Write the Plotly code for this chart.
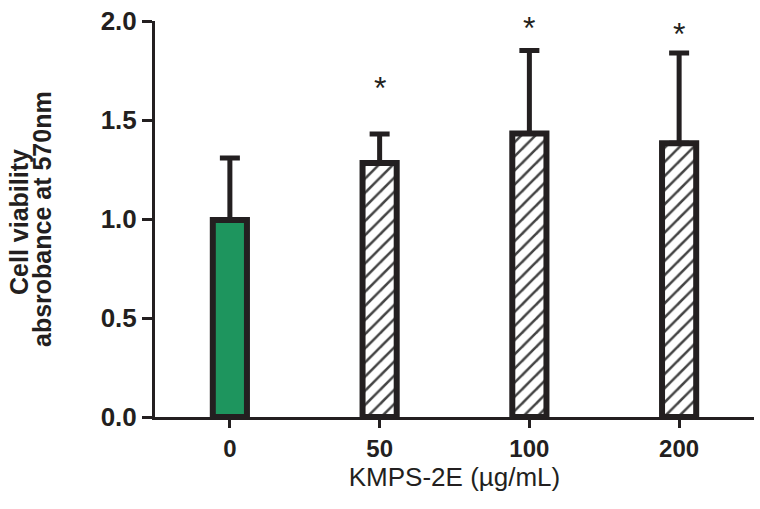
import plotly.graph_objects as go

categories = ["0", "50", "100", "200"]
means = [0.995, 1.283, 1.432, 1.383]
err_upper = [0.313, 0.146, 0.419, 0.455]
fill_colors = ["#1e955e", "white", "white", "white"]
patterns = ["", "/", "/", "/"]
sig_labels = ["", "*", "*", "*"]
sig_y = [None, 1.683, 1.985, 1.955]
y_ticks = [0.0, 0.5, 1.0, 1.5, 2.0]
y_ticktext = ["0.0", "0.5", "1.0", "1.5", "2.0"]

ink = "#231f20"
FONT = "Liberation Sans, Arial, sans-serif"

fig = go.Figure()
fig.add_trace(go.Bar(
    x=categories, y=means, width=0.228,
    marker=dict(color=fill_colors,
                line=dict(color=ink, width=6),
                pattern=dict(shape=patterns, fgcolor=ink, bgcolor=fill_colors,
                             fgopacity=1, size=10, solidity=0.25)),
    error_y=dict(type="data", symmetric=False, array=err_upper,
                 arrayminus=[0]*len(means), color=ink, thickness=5, width=10),
    showlegend=False,
))

for i, (lab, yy) in enumerate(zip(sig_labels, sig_y)):
    if lab:
        fig.add_annotation(x=i, y=yy, xref="x", yref="y", text=lab, showarrow=False,
                           font=dict(family=FONT, size=32, color=ink),
                           xanchor="center", yanchor="middle", yshift=-4)

fig.add_annotation(xref="paper", yref="paper", x=0, y=0.5, xshift=-136, yshift=-3,
                   text="<b>Cell viability</b>", textangle=-90, showarrow=False,
                   font=dict(family=FONT, size=25, color=ink),
                   xanchor="center", yanchor="middle")
fig.add_annotation(xref="paper", yref="paper", x=0, y=0.5, xshift=-113, yshift=0,
                   text="<b>absrobance at 570nm</b>", textangle=-90, showarrow=False,
                   font=dict(family=FONT, size=25, color=ink),
                   xanchor="center", yanchor="middle")

fig.update_layout(
    width=760, height=509,
    margin=dict(l=155, r=6, t=19, b=92),
    paper_bgcolor="white", plot_bgcolor="white",
    font=dict(family=FONT, color=ink),
    xaxis=dict(type="category", range=[-0.5, 3.5], showline=True, linecolor=ink,
               linewidth=3, ticks="outside", ticklen=8, tickwidth=3, tickcolor=ink,
               tickfont=dict(size=24, family=FONT, weight="bold", color=ink),
               title=dict(text="KMPS-2E (µg/mL)", standoff=8,
                          font=dict(size=26, family=FONT, color=ink)),
               showgrid=False, zeroline=False),
    yaxis=dict(range=[0, 2.0], showline=True, linecolor=ink, linewidth=3,
               tickvals=y_ticks, ticktext=y_ticktext, ticks="outside", ticklen=10,
               tickwidth=3, tickcolor=ink,
               tickfont=dict(size=26, family=FONT, weight="bold", color=ink),
               showgrid=False, zeroline=False),
)

fig.write_html("out.html", config={"displayModeBar": False},
               post_script="document.body.style.margin='0';")
